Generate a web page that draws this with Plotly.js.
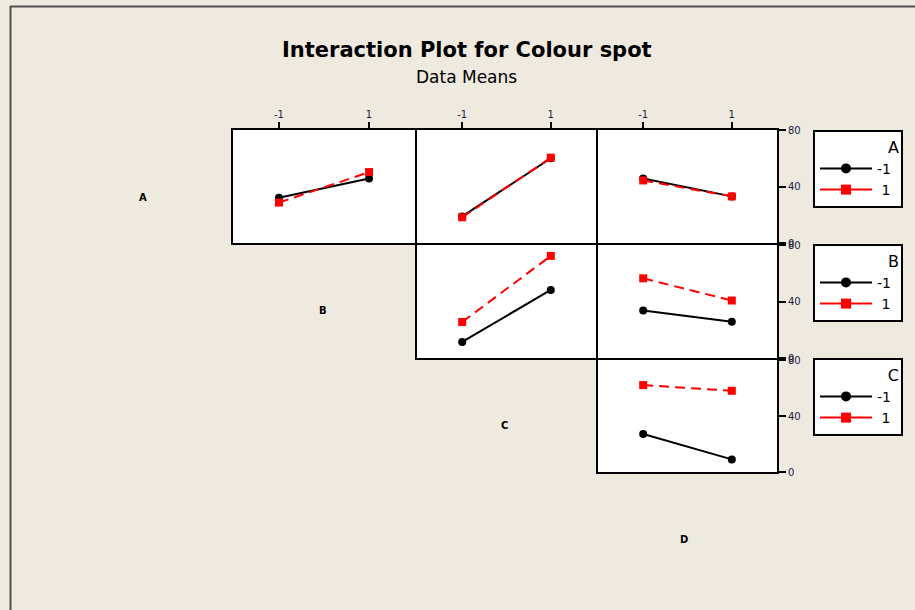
<!DOCTYPE html>
<html>
<head>
<meta charset="utf-8">
<script src="https://cdn.plot.ly/plotly-3.0.1.min.js"></script>
<style>
  html, body { margin: 0; padding: 0; background: #EEEAE0; }
  #chart { width: 915px; height: 610px; }
</style>
</head>
<body>
<div id="chart"></div>
<script>
// Factor levels and tick labels
const levels = [-1, 1];
const levelTicks = ['-1', '1'];
const yTicks = [0, 40, 80];
const factors = ['A', 'B', 'C', 'D'];
const legendNames = ['-1\u00A0', '\u00A01\u00A0'];

// Mean response (Colour spot) for each pair of factors.
// "Low" = row factor at -1, "High" = row factor at +1; values across column factor -1, +1
const abLow = [32.0, 45.7];
const abHigh = [28.6, 50.2];
const acLow = [18.8, 60.0];
const acHigh = [18.2, 60.4];
const adLow = [45.7, 33.0];
const adHigh = [44.3, 33.0];
const bcLow = [11.4, 48.2];
const bcHigh = [25.5, 72.3];
const bdLow = [33.7, 25.7];
const bdHigh = [56.4, 40.7];
const cdLow = [27.1, 9.0];
const cdHigh = [62.1, 58.0];

const W = 915, H = 610;
const px = v => v / W;
const py = v => 1 - v / H;

// Panel grid (pixel edges); neighbouring frames share one 2px line
const colEdges = [[233, 415], [417, 596], [598, 777]];
const rowEdges = [[130, 243], [245, 358], [360, 472]];

// subplot: row, col, series low, series high
const panels = [
  { r: 0, c: 0, lo: abLow, hi: abHigh },
  { r: 0, c: 1, lo: acLow, hi: acHigh },
  { r: 0, c: 2, lo: adLow, hi: adHigh },
  { r: 1, c: 1, lo: bcLow, hi: bcHigh },
  { r: 1, c: 2, lo: bdLow, hi: bdHigh },
  { r: 2, c: 2, lo: cdLow, hi: cdHigh }
];

const tickFont = { family: 'DejaVu Sans, Tahoma, sans-serif', size: 10, color: '#1c1c3a' };

const traces = [];
const layout = {
  width: W, height: H,
  margin: { l: 0, r: 0, t: 0, b: 0, pad: 0 },
  paper_bgcolor: '#EEEAE0',
  plot_bgcolor: '#FFFFFF',
  showlegend: true,
  annotations: [],
  shapes: []
};

panels.forEach((p, i) => {
  const n = i + 1;
  const xa = 'x' + (n === 1 ? '' : n);
  const ya = 'y' + (n === 1 ? '' : n);

  traces.push({
    x: levels, y: p.lo, xaxis: xa, yaxis: ya,
    type: 'scatter', mode: 'lines+markers',
    name: legendNames[0], showlegend: false,
    line: { color: '#000000', width: 2 },
    marker: { symbol: 'circle', size: 8, color: '#000000' },
    cliponaxis: false, hoverinfo: 'x+y'
  });
  traces.push({
    x: levels, y: p.hi, xaxis: xa, yaxis: ya,
    type: 'scatter', mode: 'lines+markers',
    name: legendNames[1], showlegend: false,
    line: { color: '#FF0000', width: 2, dash: '10px,6px' },
    marker: { symbol: 'square', size: 8, color: '#FF0000' },
    cliponaxis: false, hoverinfo: 'x+y'
  });

  const topRow = p.r === 0;
  const lastCol = p.c === 2;
  const xKey = 'xaxis' + (n === 1 ? '' : n);
  const yKey = 'yaxis' + (n === 1 ? '' : n);

  layout[xKey] = {
    domain: [px(colEdges[p.c][0]), px(colEdges[p.c][1])],
    anchor: ya,
    range: [-2.02, 2.02],
    side: 'top',
    tickvals: levels, ticktext: levelTicks,
    showticklabels: topRow,
    ticks: topRow ? 'outside' : '',
    ticklen: 6, tickwidth: 2, tickcolor: '#000000',
    tickfont: tickFont,
    showgrid: false, zeroline: false,
    showline: true, mirror: true, linecolor: '#000000', linewidth: 2,
    fixedrange: true
  };
  layout[yKey] = {
    domain: [py(rowEdges[p.r][1]), py(rowEdges[p.r][0])],
    anchor: xa,
    range: [0, 80],
    side: 'right',
    tickvals: yTicks,
    showticklabels: lastCol,
    ticks: lastCol ? 'outside' : '',
    ticklen: 7, tickwidth: 2, tickcolor: '#000000',
    tickfont: tickFont,
    showgrid: false, zeroline: false,
    showline: true, mirror: true, linecolor: '#000000', linewidth: 2,
    fixedrange: true
  };
});

// Legend keys (solid lines, one legend per row factor)
['legend', 'legend2', 'legend3'].forEach(lg => {
  traces.push({
    x: [null], y: [null], type: 'scatter', mode: 'lines+markers',
    name: legendNames[0], legend: lg, showlegend: true, hoverinfo: 'skip',
    line: { color: '#000000', width: 2 },
    marker: { symbol: 'circle', size: 10, color: '#000000' }
  });
  traces.push({
    x: [null], y: [null], type: 'scatter', mode: 'lines+markers',
    name: legendNames[1], legend: lg, showlegend: true, hoverinfo: 'skip',
    line: { color: '#FF0000', width: 2 },
    marker: { symbol: 'square', size: 10, color: '#FF0000' }
  });
});

const legendTops = [130, 244, 358];
['legend', 'legend2', 'legend3'].forEach((k, i) => {
  layout[k] = {
    x: px(813), y: py(legendTops[i]),
    xanchor: 'left', yanchor: 'top',
    bgcolor: '#FFFFFF', bordercolor: '#000000', borderwidth: 2,
    font: { family: 'DejaVu Sans, Tahoma, sans-serif', size: 14, color: '#000000' },
    title: { text: factors[i], side: 'top right',
             font: { family: 'DejaVu Sans, Tahoma, sans-serif', size: 16, color: '#000000' } },
    itemwidth: 52,
    traceorder: 'normal',
    tracegroupgap: 0
  };
});

// Title and subtitle
layout.annotations.push({
  text: '<b>Interaction Plot for Colour spot</b>',
  x: px(467), y: py(50), xref: 'paper', yref: 'paper',
  xanchor: 'center', yanchor: 'middle', showarrow: false,
  font: { family: 'DejaVu Sans, Verdana, sans-serif', size: 21, color: '#000000' }
});
layout.annotations.push({
  text: 'Data Means',
  x: px(466), y: py(77), xref: 'paper', yref: 'paper',
  xanchor: 'center', yanchor: 'middle', showarrow: false,
  font: { family: 'DejaVu Sans, Tahoma, sans-serif', size: 17, color: '#000000' }
});

// Factor names along the diagonal
const diagPos = [[143, 197], [323, 310], [505, 425], [684, 539]];
factors.forEach((f, i) => {
  layout.annotations.push({
    text: '<b>' + f + '</b>',
    x: px(diagPos[i][0]), y: py(diagPos[i][1]), xref: 'paper', yref: 'paper',
    xanchor: 'center', yanchor: 'middle', showarrow: false,
    font: { family: 'DejaVu Sans, Tahoma, sans-serif', size: 10, color: '#000000' }
  });
});

// Outer frame (left and top edges)
layout.shapes.push({ type: 'line', xref: 'paper', yref: 'paper',
  x0: px(10.5), x1: px(10.5), y0: py(6), y1: py(612), line: { color: '#505050', width: 2 } });
layout.shapes.push({ type: 'line', xref: 'paper', yref: 'paper',
  x0: px(10), x1: px(920), y0: py(6.5), y1: py(6.5), line: { color: '#505050', width: 2 } });

Plotly.newPlot('chart', traces, layout, { displayModeBar: false, staticPlot: true });
</script>
</body>
</html>
